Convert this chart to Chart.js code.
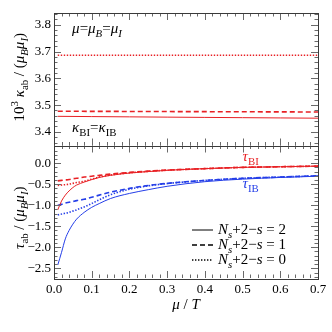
<!DOCTYPE html>
<html>
<head>
<meta charset="utf-8">
<script src="https://cdn.jsdelivr.net/npm/chart.js@4/dist/chart.umd.min.js"></script>
<style>
  html, body { margin: 0; padding: 0; background: #fff; }
</style>
</head>
<body>
<canvas id="chart" width="332" height="332"></canvas>
<script>
// values

// bottom panel: tau_ab / (mu_B mu_I) vs mu/T
const xs = [0.01, 0.02, 0.03, 0.04, 0.05, 0.06, 0.08, 0.1, 0.12, 0.15, 0.2, 0.25, 0.3, 0.4, 0.5, 0.6, 0.7];
const tauBI2 = [-1.11, -0.90, -0.76, -0.66, -0.58, -0.52, -0.45, -0.39, -0.34, -0.29, -0.235, -0.20, -0.17, -0.13, -0.10, -0.085, -0.07];
const tauBI1 = [-0.42, -0.41, -0.40, -0.39, -0.37, -0.36, -0.33, -0.31, -0.29, -0.26, -0.22, -0.19, -0.165, -0.13, -0.10, -0.085, -0.07];
const tauBI0 = [-0.53, -0.52, -0.51, -0.50, -0.48, -0.46, -0.43, -0.38, -0.33, -0.28, -0.23, -0.195, -0.167, -0.13, -0.10, -0.085, -0.07];
const tauIB2 = [-2.42, -2.12, -1.80, -1.60, -1.45, -1.33, -1.17, -1.05, -0.96, -0.84, -0.72, -0.63, -0.55, -0.44, -0.38, -0.34, -0.31];
const tauIB1 = [-1.00, -0.98, -0.95, -0.93, -0.91, -0.89, -0.86, -0.81, -0.76, -0.69, -0.60, -0.53, -0.48, -0.41, -0.36, -0.33, -0.30];
const tauIB0 = [-1.23, -1.21, -1.19, -1.17, -1.14, -1.11, -1.04, -0.96, -0.87, -0.75, -0.62, -0.54, -0.485, -0.41, -0.36, -0.33, -0.30];

// top panel: 10^3 kappa_ab / (mu_B mu_I)
const kapX = [0.01, 0.1, 0.2, 0.3, 0.4, 0.5, 0.6, 0.7];
const kap2 = [3.458, 3.457, 3.456, 3.455, 3.454, 3.453, 3.452, 3.451];
const kap1 = [3.477, 3.4766, 3.4762, 3.4758, 3.4754, 3.475, 3.4746, 3.4742];
const kap0 = [3.686, 3.686, 3.686, 3.686, 3.686, 3.686, 3.686, 3.686];

// tick labels
const xTicks = [0, 0.1, 0.2, 0.3, 0.4, 0.5, 0.6, 0.7];
const kapTicks = [3.4, 3.5, 3.6, 3.7, 3.8];
const tauTicks = [-2.5, -2.0, -1.5, -1.0, -0.5, 0.0];

const RED = 'rgb(232,32,36)';
const BLUE = 'rgb(36,62,232)';
const SERIF = '"Liberation Serif", "DejaVu Serif", serif';
const DASH = [5, 3];
const DOT = [1.4, 1.6];

function pts(x, y) {
  return x.map((v, i) => ({x: v, y: y[i]}));
}

function line(data, color, axis, dash, width) {
  return {
    data: data,
    yAxisID: axis,
    borderColor: color,
    borderWidth: width,
    borderDash: dash,
    pointRadius: 0,
    fill: false,
    cubicInterpolationMode: 'monotone'
  };
}

// rich text: parts are [text, flags], flags: i = italic, s = subscript, p = superscript
function richWidth(ctx, parts, size) {
  let w = 0;
  parts.forEach(([t, f]) => {
    f = f || '';
    const sz = (f.includes('s') || f.includes('p')) ? size * 0.72 : size;
    ctx.font = (f.includes('i') ? 'italic ' : '') + sz + 'px ' + SERIF;
    w += ctx.measureText(t).width;
  });
  return w;
}

function rich(ctx, parts, x, y, size, color, align) {
  ctx.save();
  ctx.fillStyle = color;
  ctx.textBaseline = 'alphabetic';
  ctx.textAlign = 'left';
  let cx = x;
  if (align === 'center') cx -= richWidth(ctx, parts, size) / 2;
  parts.forEach(([t, f]) => {
    f = f || '';
    let sz = size, dy = 0;
    if (f.includes('s')) { sz = size * 0.72; dy = size * 0.25; }
    if (f.includes('p')) { sz = size * 0.72; dy = -size * 0.4; }
    ctx.font = (f.includes('i') ? 'italic ' : '') + sz + 'px ' + SERIF;
    ctx.fillText(t, cx, y + dy);
    cx += ctx.measureText(t).width;
  });
  ctx.restore();
}

// frame with inward ticks on every side of both panels, plus labels
const framePlugin = {
  id: 'frame',
  afterDraw(chart) {
    const ctx = chart.ctx;
    const sx = chart.scales.x;
    const panels = [
      {s: chart.scales.yTop, major: kapTicks, step: 0.02, lo: 3.34, hi: 3.86},
      {s: chart.scales.y, major: tauTicks, step: 0.1, lo: -2.8, hi: 0.5}
    ];
    const L = sx.left, R = sx.right;
    ctx.save();
    ctx.lineWidth = 1;
    panels.forEach(p => {
      const T = p.s.top, B = p.s.bottom;
      ctx.strokeStyle = '#6a6a6a';
      ctx.beginPath();
      // x ticks on top and bottom edges
      for (let i = 0; i <= 35; i++) {
        const v = i * 0.02;
        const px = Math.round(sx.getPixelForValue(v)) + 0.5;
        const len = (i % 5 === 0) ? 7 : 3.5;
        ctx.moveTo(px, T); ctx.lineTo(px, T + len);
        ctx.moveTo(px, B); ctx.lineTo(px, B - len);
      }
      // y ticks on left and right edges
      const n = Math.round((p.hi - p.lo) / p.step);
      for (let i = 0; i <= n; i++) {
        const v = p.lo + i * p.step;
        if (v < p.s.min || v > p.s.max) continue;
        const py = Math.round(p.s.getPixelForValue(v)) + 0.5;
        const isMajor = p.major.some(m => Math.abs(m - v) < 1e-6);
        const len = isMajor ? 7 : 3.5;
        ctx.moveTo(L, py); ctx.lineTo(L + len, py);
        ctx.moveTo(R, py); ctx.lineTo(R - len, py);
      }
      ctx.stroke();
      ctx.strokeStyle = '#3a3a3a';
      ctx.strokeRect(Math.round(L) + 0.5, Math.round(T) + 0.5, Math.round(R - L), Math.round(B - T));
    });
    ctx.restore();

    const yt = chart.scales.yTop, yb = chart.scales.y;
    // axis titles
    rich(ctx, [['μ', 'i'], [' / '], ['T', 'i']], (L + R) / 2, sx.bottom - 23, 15, '#000', 'center');
    ctx.save();
    ctx.translate(24, (yt.top + yt.bottom) / 2 - 2);
    ctx.rotate(-Math.PI / 2);
    rich(ctx, [['10'], ['3', 'p'], [' '], ['κ', 'i'], ['ab', 's'], [' / ('], ['μ', 'i'], ['B', 'is'], ['μ', 'i'], ['I', 'is'], [')']], 0, 0, 15, '#000', 'center');
    ctx.restore();
    ctx.save();
    ctx.translate(24, (yb.top + yb.bottom) / 2 + 6);
    ctx.rotate(-Math.PI / 2);
    rich(ctx, [['τ', 'i'], ['ab', 's'], [' / ('], ['μ', 'i'], ['B', 'is'], ['μ', 'i'], ['I', 'is'], [')']], 0, 0, 15, '#000', 'center');
    ctx.restore();

    // in-panel labels
    rich(ctx, [['μ', 'i'], ['='], ['μ', 'i'], ['B', 'is'], ['='], ['μ', 'i'], ['I', 'is']],
      sx.getPixelForValue(0.048), yt.getPixelForValue(3.769), 15, '#000');
    rich(ctx, [['κ', 'i'], ['BI', 's'], ['='], ['κ', 'i'], ['IB', 's']],
      sx.getPixelForValue(0.048), yt.getPixelForValue(3.398), 15, '#000');
    rich(ctx, [['τ', 'i'], ['BI', 's']], sx.getPixelForValue(0.5), yb.getPixelForValue(0.05), 15, RED);
    rich(ctx, [['τ', 'i'], ['IB', 's']], sx.getPixelForValue(0.5), yb.getPixelForValue(-0.59), 15, BLUE);

    // legend
    const rows = [[[], '2', 1], [DASH, '1', 1.6], [DOT, '0', 1.6]];
    rows.forEach(([dash, val, w], k) => {
      const base = yb.bottom - 44 + k * 15;
      ctx.save();
      ctx.strokeStyle = '#000';
      ctx.lineWidth = w;
      ctx.setLineDash(dash);
      ctx.beginPath();
      ctx.moveTo(R - 126, base - 4);
      ctx.lineTo(R - 105, base - 4);
      ctx.stroke();
      ctx.restore();
      rich(ctx, [['N', 'i'], ['s', 'is'], ['+2−'], ['s', 'i'], [' = ' + val]], R - 100, base, 15, '#000');
    });
  }
};

const data = {
  datasets: [
    line(pts(xs, tauBI2), RED, 'y', [], 1),
    line(pts(xs, tauBI1), RED, 'y', DASH, 1.6),
    line(pts(xs, tauBI0), RED, 'y', DOT, 1.6),
    line(pts(xs, tauIB2), BLUE, 'y', [], 1),
    line(pts(xs, tauIB1), BLUE, 'y', DASH, 1.6),
    line(pts(xs, tauIB0), BLUE, 'y', DOT, 1.6),
    line(pts(kapX, kap2), RED, 'yTop', [], 1),
    line(pts(kapX, kap1), RED, 'yTop', DASH, 1.6),
    line(pts(kapX, kap0), RED, 'yTop', DOT, 1.6)
  ]
};

const tickFont = {family: SERIF, size: 13};

const options = {
  responsive: false,
  animation: false,
  layout: { padding: {left: 0, top: 13, right: 14, bottom: 0} },
  plugins: { legend: {display: false}, tooltip: {enabled: false} },
  scales: {
    x: {
      type: 'linear',
      min: 0,
      max: 0.7,
      grid: {display: false, drawTicks: false},
      border: {display: false},
      afterBuildTicks: s => { s.ticks = xTicks.map(v => ({value: v})); },
      afterFit: s => { s.height = 54; },
      ticks: {
        font: tickFont,
        color: '#000',
        padding: 4,
        maxRotation: 0,
        autoSkip: false,
        callback: v => v.toFixed(1)
      }
    },
    y: {
      type: 'linear',
      position: 'left',
      stack: 'panels',
      stackWeight: 1,
      min: -2.73,
      max: 0.42,
      grid: {display: false, drawTicks: false},
      border: {display: false},
      afterBuildTicks: s => { s.ticks = tauTicks.map(v => ({value: v})); },
      afterFit: s => { s.width = 54; },
      ticks: {
        font: tickFont,
        color: '#000',
        padding: 3,
        autoSkip: false,
        callback: v => v.toFixed(1).replace('-', '−')
      }
    },
    yTop: {
      type: 'linear',
      position: 'left',
      stack: 'panels',
      stackWeight: 1,
      min: 3.349,
      max: 3.844,
      grid: {display: false, drawTicks: false},
      border: {display: false},
      afterBuildTicks: s => { s.ticks = kapTicks.map(v => ({value: v})); },
      afterFit: s => { s.width = 54; },
      ticks: {
        font: tickFont,
        color: '#000',
        padding: 3,
        autoSkip: false,
        callback: v => v.toFixed(1)
      }
    }
  }
};

const chart = new Chart(document.getElementById('chart'), {
  type: 'line',
  data: data,
  options: options,
  plugins: [framePlugin]
});
</script>
</body>
</html>
